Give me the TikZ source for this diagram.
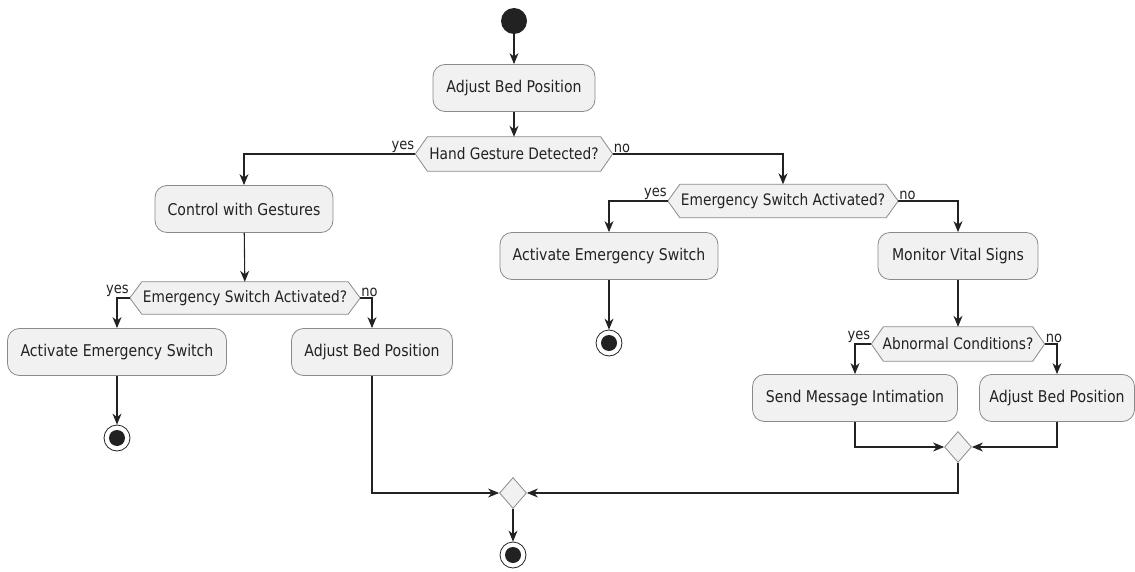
\documentclass[tikz,border=0pt]{standalone}
\usepackage{fontspec}
\setmainfont{DejaVu Sans}[FakeStretch=0.87]
\usetikzlibrary{arrows.meta,backgrounds,shapes.geometric}
\definecolor{boxfill}{HTML}{F1F1F1}
\definecolor{boxline}{HTML}{8A8A8A}
\definecolor{lin}{HTML}{222222}
\newcommand\hexdraw[1]{%
  \begin{pgfonlayer}{background}
  \draw[draw=boxline,fill=boxfill,line width=0.8pt]
    (#1.west) -- ([xshift=12pt]#1.north west) -- ([xshift=-12pt]#1.north east)
    -- (#1.east) -- ([xshift=-12pt]#1.south east) -- ([xshift=12pt]#1.south west) -- cycle;
  \end{pgfonlayer}}
\begin{document}
\begin{tikzpicture}[x=1pt,y=-1pt,
  act/.style={draw=boxline, fill=boxfill, rounded corners=12pt, line width=0.8pt,
    minimum height=47pt, inner sep=0pt, font=\fontsize{16.2}{19}\selectfont, text=lin},
  dec/.style={inner sep=0pt, font=\fontsize{15.8}{18}\selectfont, text=lin},
  merge/.style={diamond, draw=boxline, fill=boxfill, minimum width=27pt,
    minimum height=31pt, inner sep=0pt, line width=0.8pt},
  startnode/.style={circle, fill=lin, minimum size=26pt, inner sep=0pt},
  endnode/.style={circle, draw=lin, fill=white, minimum size=26pt, inner sep=0pt,
    line width=0.8pt, path picture={\fill[lin] (path picture bounding box.center) circle (8pt);}},
  flow/.style={draw=lin, line width=1.1pt, -{Stealth[length=11pt,width=9pt,inset=3.5pt]}},
  lbl/.style={font=\fontsize{15}{16}\selectfont, inner sep=1pt, text=lin}
]
\useasboundingbox (0,0) rectangle (1135,572);

\node[startnode] (start) at (514,21) {};
\node[act, minimum width=162pt] (b1) at (514,88) {Adjust Bed Position};
\node[dec, minimum width=197pt, minimum height=34pt] (d1) at (514,154) {Hand Gesture Detected?};
\hexdraw{d1}

\node[act, minimum width=178pt] (b2) at (244,209) {Control with Gestures};
\node[dec, minimum width=230pt, minimum height=32pt] (d2) at (245,298) {Emergency Switch Activated?};
\hexdraw{d2}
\node[act, minimum width=219pt] (b3) at (117,352) {Activate Emergency Switch};
\node[act, minimum width=161pt] (b4) at (372,352) {Adjust Bed Position};
\node[endnode] (e1) at (117,438) {};

\node[dec, minimum width=230pt, minimum height=33pt] (d3) at (783,201) {Emergency Switch Activated?};
\hexdraw{d3}
\node[act, minimum width=218pt] (b5) at (609,256) {Activate Emergency Switch};
\node[endnode] (e2) at (609,343) {};
\node[act, minimum width=160pt] (b6) at (958,256) {Monitor Vital Signs};
\node[dec, minimum width=173pt, minimum height=34pt] (d4) at (958,344) {Abnormal Conditions?};
\hexdraw{d4}
\node[act, minimum width=205pt] (b7) at (855,398) {Send Message Intimation};
\node[act, minimum width=155pt] (b8) at (1057,398) {Adjust Bed Position};
\node[merge] (m1) at (958,447) {};
\node[merge] (m2) at (513,493) {};
\node[endnode] (e3) at (513,555) {};

\draw[flow] (start) -- (b1);
\draw[flow] (b1) -- (d1);
\draw[flow] (d1.west) -| (b2.north);
\draw[flow] (d1.east) -| (d3.north);
\node[lbl, anchor=south east] at (d1.west) {yes};
\node[lbl, anchor=south west] at (d1.east) {no};

\draw[flow] (b2) -- (d2);
\draw[flow] (d2.west) -| (b3.north);
\draw[flow] (d2.east) -| (b4.north);
\node[lbl, anchor=south east] at (d2.west) {yes};
\node[lbl, anchor=south west] at (d2.east) {no};
\draw[flow] (b3) -- (e1);

\draw[flow] (d3.west) -| (b5.north);
\draw[flow] (d3.east) -| (b6.north);
\node[lbl, anchor=south east] at (d3.west) {yes};
\node[lbl, anchor=south west] at (d3.east) {no};
\draw[flow] (b5) -- (e2);
\draw[flow] (b6) -- (d4);

\draw[flow] (d4.west) -| (b7.north);
\draw[flow] (d4.east) -| (b8.north);
\node[lbl, anchor=south east] at (d4.west) {yes};
\node[lbl, anchor=south west] at (d4.east) {no};

\draw[flow] (b7.south) |- (m1.west);
\draw[flow] (b8.south) |- (m1.east);
\draw[flow] (b4.south) |- (m2.west);
\draw[flow] (m1.south) |- (m2.east);
\draw[flow] (m2) -- (e3);
\end{tikzpicture}
\end{document}
